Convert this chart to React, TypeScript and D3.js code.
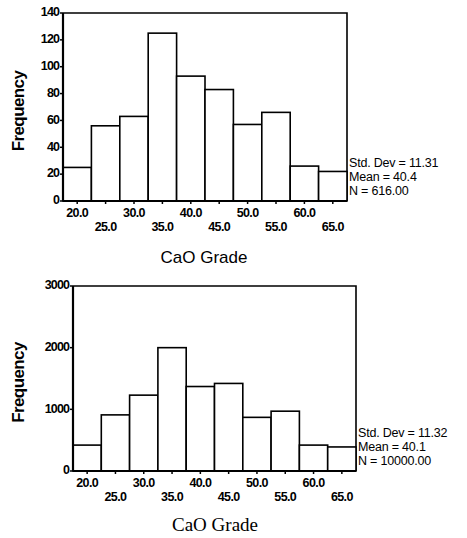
import React from "react";
import * as d3 from "d3";

// bin midpoints (CaO grade, bin width 5)
const binCenters = [20, 25, 30, 35, 40, 45, 50, 55, 60, 65];
const tickLabels = ["20.0", "25.0", "30.0", "35.0", "40.0", "45.0", "50.0", "55.0", "60.0", "65.0"];

// frequencies
const freqSample = [25, 56, 63, 125, 93, 83, 57, 66, 26, 22];
const freqSimulated = [420, 910, 1230, 2000, 1370, 1420, 870, 970, 420, 390];

const yTicksSample = [0, 20, 40, 60, 80, 100, 120, 140];
const yTicksSimulated = [0, 1000, 2000, 3000];

const statsSample = ["Std. Dev = 11.31", "Mean = 40.4", "N = 616.00"];
const statsSimulated = ["Std. Dev = 11.32", "Mean = 40.1", "N = 10000.00"];

const tickFont = "'Liberation Sans', Arial, sans-serif";

type HistProps = {
  values: number[];
  yTicks: number[];
  stats: string[];
  left: number;
  right: number;
  top: number;
  bottom: number;
  labelY: number;
  labelX: number;
  labelFont: string;
  labelSize: number;
};

function Histogram(p: HistProps) {
  const yMax = p.yTicks[p.yTicks.length - 1];
  const x = d3.scaleLinear().domain([17.5, 67.5]).range([p.left, p.right]);
  const y = d3.scaleLinear().domain([0, yMax]).range([p.bottom, p.top]);

  return (
    <g>
      {/* frame top + right */}
      <path
        d={`M${p.left},${p.top}H${p.right}V${p.bottom}`}
        fill="none"
        stroke="#000"
        strokeWidth={1.6}
      />
      {/* bars */}
      {p.values.map((v, i) => (
        <rect
          key={i}
          x={x(binCenters[i] - 2.5)}
          y={y(v)}
          width={x(binCenters[i] + 2.5) - x(binCenters[i] - 2.5)}
          height={p.bottom - y(v)}
          fill="#fff"
          stroke="#000"
          strokeWidth={1.6}
        />
      ))}
      {/* axes */}
      <line x1={p.left} x2={p.left} y1={p.top} y2={p.bottom} stroke="#000" strokeWidth={2.2} />
      <line x1={p.left} x2={p.right} y1={p.bottom} y2={p.bottom} stroke="#000" strokeWidth={2.2} />
      {/* y ticks */}
      {p.yTicks.map((t) => (
        <g key={t}>
          <line x1={p.left - 3} x2={p.left} y1={y(t)} y2={y(t)} stroke="#000" strokeWidth={1.5} />
          <text
            x={p.left - 4}
            y={y(t)}
            textAnchor="end"
            dominantBaseline="middle"
            fontFamily={tickFont}
            fontSize={12.5}
            fontWeight="bold"
            letterSpacing={-0.9}
          >
            {t}
          </text>
        </g>
      ))}
      {/* x ticks, labels alternate on two rows */}
      {binCenters.map((c, i) => (
        <g key={c}>
          <line x1={x(c)} x2={x(c)} y1={p.bottom} y2={p.bottom + 3} stroke="#000" strokeWidth={1.5} />
          <text
            x={x(c)}
            y={p.bottom + (i % 2 === 0 ? 16 : 30)}
            textAnchor="middle"
            fontFamily={tickFont}
            fontSize={12.5}
            fontWeight="bold"
            letterSpacing={-0.6}
          >
            {tickLabels[i]}
          </text>
        </g>
      ))}
      {/* stats box */}
      {p.stats.map((s, i) => (
        <text
          key={s}
          x={p.right + 2}
          y={p.bottom - 37 + i * 14}
          dominantBaseline="middle"
          fontFamily={tickFont}
          fontSize={12.5}
          letterSpacing={-0.2}
        >
          {s}
        </text>
      ))}
      {/* y axis title */}
      <text
        transform={`translate(20,${(p.top + p.bottom) / 2 + 4}) rotate(-90)`}
        textAnchor="middle"
        dominantBaseline="middle"
        fontFamily={tickFont}
        fontSize={17}
        fontWeight="bold"
        letterSpacing={-0.6}
      >
        Frequency
      </text>
      {/* x axis title */}
      <text
        x={p.labelX}
        y={p.labelY}
        textAnchor="middle"
        dominantBaseline="middle"
        fontFamily={p.labelFont}
        fontSize={p.labelSize}
      >
        CaO Grade
      </text>
    </g>
  );
}

export default function App() {
  return (
    <svg
      width={467}
      height={538}
      style={{ position: "absolute", left: 0, top: 0, background: "#fff" }}
    >
      <Histogram
        values={freqSample}
        yTicks={yTicksSample}
        stats={statsSample}
        left={63}
        right={347}
        top={13}
        bottom={201}
        labelX={204}
        labelY={259}
        labelFont={tickFont}
        labelSize={17}
      />
      <Histogram
        values={freqSimulated}
        yTicks={yTicksSimulated}
        stats={statsSimulated}
        left={73}
        right={356}
        top={286}
        bottom={471}
        labelX={215}
        labelY={527}
        labelFont={"'Liberation Serif', 'Times New Roman', serif"}
        labelSize={19}
      />
    </svg>
  );
}
